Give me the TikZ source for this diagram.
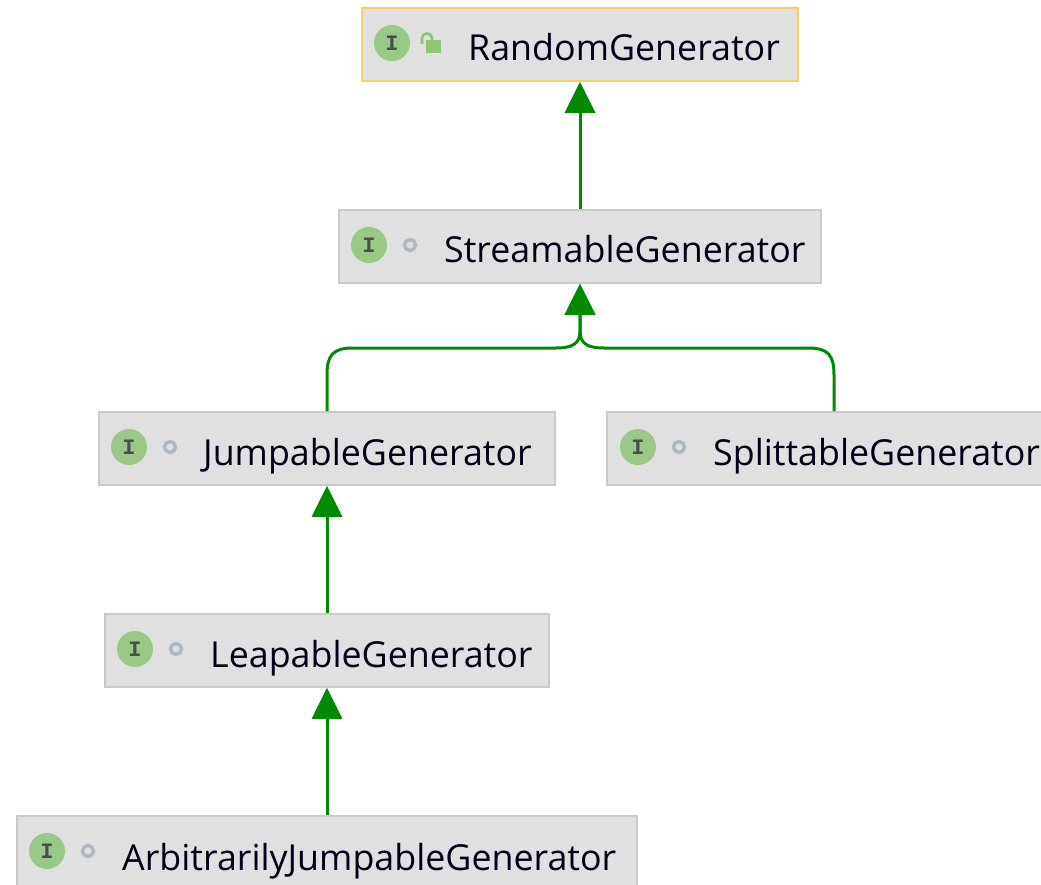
\documentclass[tikz,border=0pt]{standalone}
\usepackage{fontspec}
\setmainfont{Open Sans}
\newfontfamily\iconfont{Liberation Mono}
\usetikzlibrary{arrows.meta}
\definecolor{boxfill}{HTML}{E0E0E0}
\definecolor{boxline}{HTML}{CACACA}
\definecolor{boxselect}{HTML}{F6D25C}
\definecolor{icongreen}{HTML}{9AC987}
\definecolor{lockgreen}{HTML}{8DC676}
\definecolor{ringgray}{HTML}{AEBAC2}
\definecolor{arrowgreen}{HTML}{008A00}
\tikzset{
    genbox/.style={draw=boxline, fill=boxfill, line width=1.6pt, minimum height=73pt, inner sep=0pt, outer sep=0.8pt},
    genname/.style={anchor=base west, inner sep=0pt, text=black!90!blue, font=\fontsize{35.8}{42}\selectfont},
    genicon/.style={circle, fill=icongreen, minimum size=36pt, inner sep=0pt, text=black!70, font=\iconfont\bfseries\fontsize{22}{22}\selectfont},
    genring/.style={circle, draw=ringgray, line width=3.4pt, minimum size=11pt, inner sep=0pt},
    genarrow/.style={-{Triangle[length=31pt,width=30pt]}, arrowgreen, line width=3pt},
}
\begin{document}
\begin{tikzpicture}[x=1pt, y=-1pt]
    \useasboundingbox (0,0) rectangle (1041,885);
    % Boxes
    \node[genbox, draw=boxselect, minimum width=436pt] (random) at (580,44.5) {};
    \node[genbox, minimum width=482pt] (stream) at (580,246.5) {};
    \node[genbox, minimum width=456pt] (jump) at (327,448.5) {};
    \node[genbox, minimum width=454pt] (split) at (834,448.5) {};
    \node[genbox, minimum width=444pt] (leap) at (327,650.5) {};
    \node[genbox, minimum width=620pt] (arbitrary) at (327,852.5) {};

    % Icons
    \node[genicon] (randomicon) at (392,43) {I};
    \node[genicon] (streamicon) at (369,245) {I};
    \node[genicon] (jumpicon) at (129,447) {I};
    \node[genicon] (spliticon) at (638,447) {I};
    \node[genicon] (leapicon) at (135,649) {I};
    \node[genicon] (arbitraryicon) at (47,851) {I};
    \node[genring] (streamring) at (410,245) {};
    \node[genring] (jumpring) at (170,447) {};
    \node[genring] (splitring) at (679,447) {};
    \node[genring] (leapring) at (176,649) {};
    \node[genring] (arbitraryring) at (88,851) {};

    % Open lock on the first box
    \fill[lockgreen] (425.5,40.5) rectangle (441,53);
    \draw[lockgreen, line width=2.6pt] (422,44) -- (422,38) .. controls (422,32) and (432,32) .. (432,38) -- (432,41);

    % Names
    \node[genname] (randomname) at (468,61) {RandomGenerator};
    \node[genname] (streamname) at (444,263) {StreamableGenerator};
    \node[genname] (jumpname) at (203,465) {JumpableGenerator};
    \node[genname] (splitname) at (713,465) {SplittableGenerator};
    \node[genname] (leapname) at (210,667) {LeapableGenerator};
    \node[genname] (arbitraryname) at (122,870) {ArbitrarilyJumpableGenerator};

    % Inheritance arrows
    \draw[genarrow] (stream) -- (random);
    \draw[genarrow] (leap) -- (jump);
    \draw[genarrow] (arbitrary) -- (leap);
    \draw[genarrow] (jump.north) -- (327,375) .. controls (327,355) and (333,348) .. (353,348) -- (556,348) .. controls (572,348) and (580,344) .. (580,331) -- (stream.south);
    \draw[genarrow] (split.north) -- (834,375) .. controls (834,355) and (828,348) .. (808,348) -- (604,348) .. controls (588,348) and (580,344) .. (580,331) -- (stream.south);
\end{tikzpicture}
\end{document}
